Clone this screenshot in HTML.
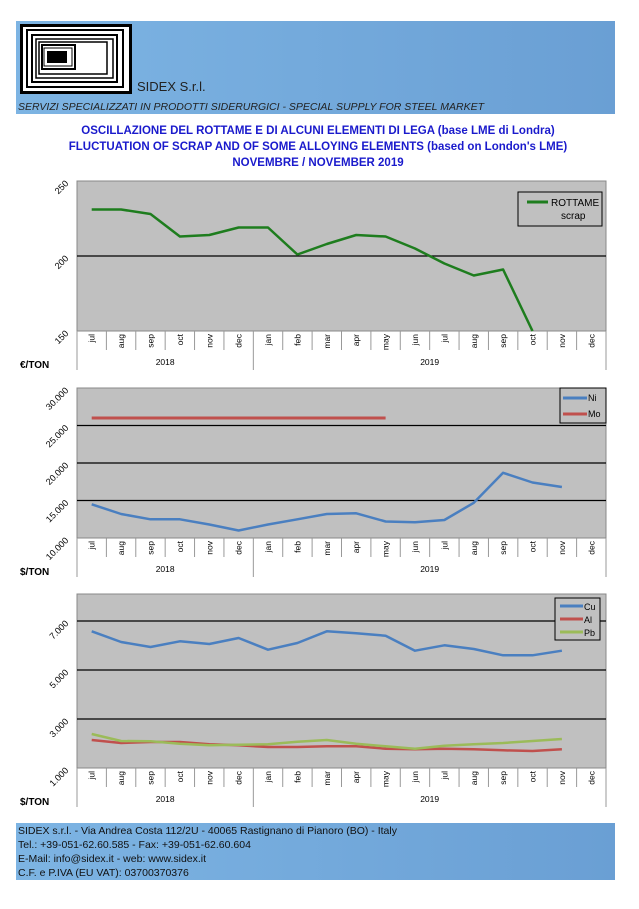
<!DOCTYPE html>
<html><head><meta charset="utf-8">
<style>
body{margin:0;background:#fff;width:639px;height:909px;overflow:hidden;font-family:"Liberation Sans",sans-serif}
svg{position:absolute;left:0;top:0}
</style></head><body>
<svg id="s" width="639" height="909" xmlns="http://www.w3.org/2000/svg" font-family="Liberation Sans, sans-serif">
<defs>
<linearGradient id="g" x1="0" x2="1"><stop offset="0" stop-color="#7db4e3"/><stop offset="1" stop-color="#6a9fd4"/></linearGradient>
</defs>
<rect x="16" y="21" width="599" height="93" fill="url(#g)"/>
<rect x="20" y="24" width="112" height="70" fill="#fff"/>
<g fill="none" stroke="#000">
<rect x="21.5" y="25.5" width="109" height="67" stroke-width="3"/>
<rect x="27" y="30" width="96" height="57" stroke-width="2"/>
<rect x="32" y="35" width="85" height="47" stroke-width="2"/>
<rect x="36" y="39" width="77" height="39" stroke-width="1.5"/>
<rect x="39" y="42" width="68" height="32" stroke-width="1.5"/>
<rect x="42" y="45" width="33" height="24" stroke-width="2"/>
<rect x="44" y="48" width="28" height="18" stroke-width="1"/>
</g>
<rect x="47" y="51" width="20" height="12" fill="#000"/>
<text x="137" y="91" font-size="13" fill="#222">SIDEX S.r.l.</text>
<text x="18" y="110" font-size="10.5" font-style="italic" fill="#222">SERVIZI SPECIALIZZATI IN PRODOTTI SIDERURGICI - SPECIAL SUPPLY FOR STEEL MARKET</text>
<g font-size="11.5" font-weight="bold" fill="#1a1acc" text-anchor="middle">
<text x="318" y="134">OSCILLAZIONE DEL ROTTAME E DI ALCUNI ELEMENTI DI LEGA (base LME di Londra)</text>
<text x="318" y="150">FLUCTUATION OF SCRAP AND OF SOME ALLOYING ELEMENTS  (based on London's LME)</text>
<text x="318" y="166">NOVEMBRE / NOVEMBER 2019</text>
</g>
<rect x="16" y="823" width="599" height="57" fill="url(#g)"/>
<g font-size="10.5" fill="#111">
<text x="18" y="834">SIDEX s.r.l.  -  Via Andrea Costa 112/2U  -  40065 Rastignano di Pianoro (BO) - Italy</text>
<text x="18" y="848">Tel.: +39-051-62.60.585  -  Fax: +39-051-62.60.604</text>
<text x="18" y="862">E-Mail: info@sidex.it  -  web: www.sidex.it</text>
<text x="18" y="876">C.F. e P.IVA (EU VAT): 03700370376</text>
</g>
<g id="c"></g>
</svg>
<script>
var c=document.getElementById('c'),h='';
var L=77,R=606,W=(R-L)/18;
var months=['jul','aug','sep','oct','nov','dec','jan','feb','mar','apr','may','jun','jul','aug','sep','oct','nov','dec'];
function X(i){return L+W*(i+0.5);}
function chart(top,bot,ticks,fy,unit){
 h+='<rect x="'+L+'" y="'+top+'" width="'+(R-L)+'" height="'+(bot-top)+'" fill="#c0c0c0" stroke="#888"/>';
 ticks.forEach(function(t){var y=fy(t[0]);if(y>top+1&&y<bot-1)h+='<line x1="'+L+'" x2="'+R+'" y1="'+y+'" y2="'+y+'" stroke="#000" stroke-width="1.2"/>';
  h+='<text transform="translate('+(L-8)+','+(y+3)+') rotate(-45)" font-size="9" text-anchor="end" fill="#000">'+t[1]+'</text>';});
 for(var i=0;i<=18;i++){var x=L+W*i;h+='<line x1="'+x+'" x2="'+x+'" y1="'+bot+'" y2="'+(bot+(i==0||i==6||i==18?39:19))+'" stroke="#999"/>';}
 months.forEach(function(m,i){h+='<text transform="translate('+(X(i)+3)+','+(bot+3)+') rotate(-90)" font-size="8.5" text-anchor="end" fill="#000">'+m+'</text>';});
 h+='<text x="'+(L+3*W)+'" y="'+(bot+34)+'" font-size="8.5" text-anchor="middle">2018</text>';
 h+='<text x="'+(L+12*W)+'" y="'+(bot+34)+'" font-size="8.5" text-anchor="middle">2019</text>';
 h+='<text x="20" y="'+(bot+37)+'" font-size="10" font-weight="bold">'+unit+'</text>';
}
function line(d,fy,col,w){var p=d.map(function(v,i){return X(i).toFixed(1)+','+fy(v).toFixed(1)}).join(' ');h+='<polyline points="'+p+'" fill="none" stroke="'+col+'" stroke-width="'+w+'" stroke-linejoin="round"/>';}
// chart 1
var f1=function(v){return 331-(v-150)*1.5};
chart(181,331,[[250,'250'],[200,'200'],[150,'150']],f1,'€/TON');
line([231,231,228,213,214,219,219,201,208,214,213,205,195,187,191,150],f1,'#1e7d1e',2.5);
h+='<rect x="518" y="192" width="84" height="34" fill="#c0c0c0" stroke="#000"/><line x1="527" x2="548" y1="202" y2="202" stroke="#1e7d1e" stroke-width="3"/><text x="551" y="206" font-size="10">ROTTAME</text><text x="561" y="219" font-size="10">scrap</text>';
// chart 2
var f2=function(v){return 538-(v-10000)*150/20000};
chart(388,538,[[30000,'30.000'],[25000,'25.000'],[20000,'20.000'],[15000,'15.000'],[10000,'10.000']],f2,'$/TON');
line([14500,13200,12500,12500,11800,11000,11800,12500,13200,13300,12200,12100,12400,14700,18700,17400,16800],f2,'#4a7fc0',2.5);
line([26000,26000,26000,26000,26000,26000,26000,26000,26000,26000,26000],f2,'#c0504d',3);
h+='<rect x="560" y="388" width="46" height="35" fill="#c0c0c0" stroke="#000"/><line x1="563" x2="587" y1="398" y2="398" stroke="#4a7fc0" stroke-width="3"/><text x="588" y="401" font-size="9">Ni</text><line x1="563" x2="587" y1="414" y2="414" stroke="#c0504d" stroke-width="3"/><text x="588" y="417" font-size="9">Mo</text>';
// chart 3
var f3=function(v){return 768-(v-1000)*49/2000};
chart(594,768,[[7000,'7.000'],[5000,'5.000'],[3000,'3.000'],[1000,'1.000']],f3,'$/TON');
line([6578,6143,5939,6170,6061,6306,5830,6102,6578,6497,6401,5789,6007,5857,5599,5599,5789],f3,'#4a7fc0',2.5);
line([2143,2020,2061,2061,1966,1925,1857,1857,1884,1884,1789,1762,1789,1762,1721,1694,1762],f3,'#c0504d',2.5);
line([2388,2102,2088,1993,1925,1952,1966,2075,2143,1993,1884,1789,1911,1966,2020,2102,2184],f3,'#9bbb59',2.5);
h+='<rect x="555" y="598" width="45" height="42" fill="#c0c0c0" stroke="#000"/>';
[['Cu','#4a7fc0',610],['Al','#c0504d',623],['Pb','#9bbb59',636]].forEach(function(a){h+='<line x1="560" x2="583" y1="'+(a[2]-4)+'" y2="'+(a[2]-4)+'" stroke="'+a[1]+'" stroke-width="3"/><text x="584" y="'+a[2]+'" font-size="9">'+a[0]+'</text>';});
c.innerHTML=h;
</script>
</body></html>
